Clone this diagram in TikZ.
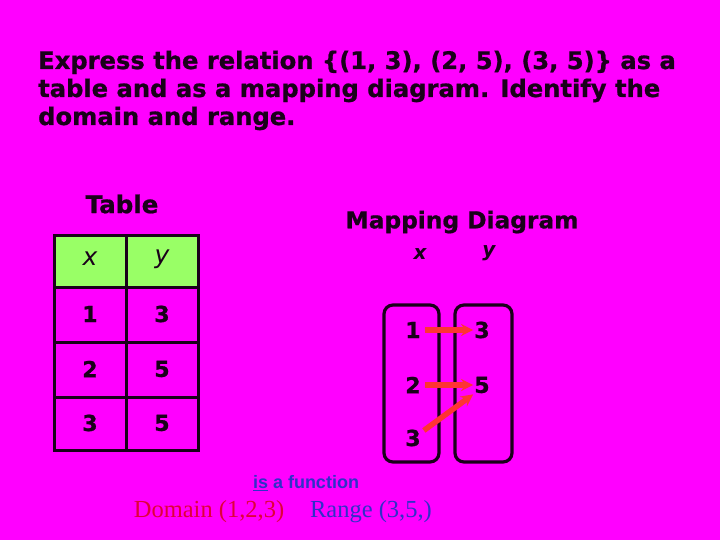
\documentclass[tikz,border=0pt]{standalone}
\usepackage{fontspec}
\setmainfont{DejaVu Sans}[BoldFeatures={FakeBold=0.8}]
\newfontfamily\arl{Liberation Sans}
\newfontfamily\tms{Liberation Serif}
\usetikzlibrary{arrows.meta}
\definecolor{bg}{HTML}{FF00FF}
\definecolor{hdr}{HTML}{99FF66}
\definecolor{ink}{HTML}{1A001A}
\definecolor{arr}{HTML}{FF3333}
\definecolor{dblue}{HTML}{3030C8}
\definecolor{dred}{HTML}{E0003A}
\tikzset{
  title/.style={anchor=base west,inner sep=0pt,font=\bfseries\fontsize{24.2}{28}\selectfont,text=ink},
  num/.style={inner sep=1pt,font=\bfseries\fontsize{22}{26}\selectfont,text=ink},
  hvar/.style={inner sep=0pt,font=\itshape\fontsize{25}{28}\selectfont,text=ink},
  mvar/.style={inner sep=0pt,font=\bfseries\itshape\fontsize{20}{24}\selectfont,text=ink},
  grid/.style={draw=ink,line width=3pt},
  setbox/.style={draw=ink,line width=3.2pt,rounded corners=9pt},
  maparrow/.style={draw=arr,line width=5.5pt,-{Stealth[length=12pt,width=12pt]}}
}
\begin{document}
\begin{tikzpicture}[x=1pt,y=-1pt]
\fill[bg] (0,0) rectangle (720,540);
\useasboundingbox (0,0) rectangle (720,540);
% title
\node[title] (t1) at (38,69) {Express the relation \{(1, 3), (2, 5), (3, 5)\} as a};
\node[title] (t2) at (38,97) {table and as a mapping diagram. Identify the};
\node[title] (t3) at (38,125) {domain and range.};
% table
\node[num,font=\bfseries\fontsize{24.5}{28}\selectfont] (tt) at (122,204) {Table};
\fill[hdr] (54,235) rectangle (198,287);
\draw[grid] (54,235) rectangle (198,450);
\draw[grid] (126,235) -- (126,450);
\draw[grid] (54,287) -- (198,287);
\draw[grid] (54,342) -- (198,342);
\draw[grid] (54,397) -- (198,397);
\node[hvar] (hx) at (90,259) {x};
\node[hvar] (hy) at (162,259) {y};
\node[num] (a1) at (90,314) {1};
\node[num] (b1) at (162,314) {3};
\node[num] (a2) at (90,369) {2};
\node[num] (b2) at (162,369) {5};
\node[num] (a3) at (90,423) {3};
\node[num] (b3) at (162,423) {5};
% mapping
\node[num,font=\bfseries\fontsize{23.3}{27}\selectfont] (mt) at (462,222) {Mapping Diagram};
\node[mvar] (mx) at (420,254) {x};
\node[mvar] (my) at (489,253) {y};
\draw[setbox] (384,305) rectangle (439,462);
\draw[setbox] (455,305) rectangle (512,462);
\node[num] (l1) at (413,330) {1};
\node[num] (l2) at (413,385) {2};
\node[num] (l3) at (413,438) {3};
\node[num] (r1) at (482,330) {3};
\node[num] (r2) at (482,385) {5};
\draw[maparrow] ([xshift=3pt]l1.east) -- (r1.west);
\draw[maparrow] ([xshift=3pt]l2.east) -- (r2.west);
\draw[maparrow] ([xshift=2pt,yshift=-2pt]l3.north east) -- (r2.south west);
% bottom
\node[inner sep=0pt,font=\arl\bfseries\fontsize{18}{20}\selectfont,text=dblue] (fn) at (306,483) {\underline{is} a function};
\node[inner sep=0pt,font=\tms\fontsize{24.5}{26}\selectfont,text=dred] (dom) at (209,512) {Domain (1,2,3)};
\node[inner sep=0pt,font=\tms\fontsize{24.5}{26}\selectfont,text=dblue] (rng) at (371,512) {Range (3,5,)};
\end{tikzpicture}
\end{document}
